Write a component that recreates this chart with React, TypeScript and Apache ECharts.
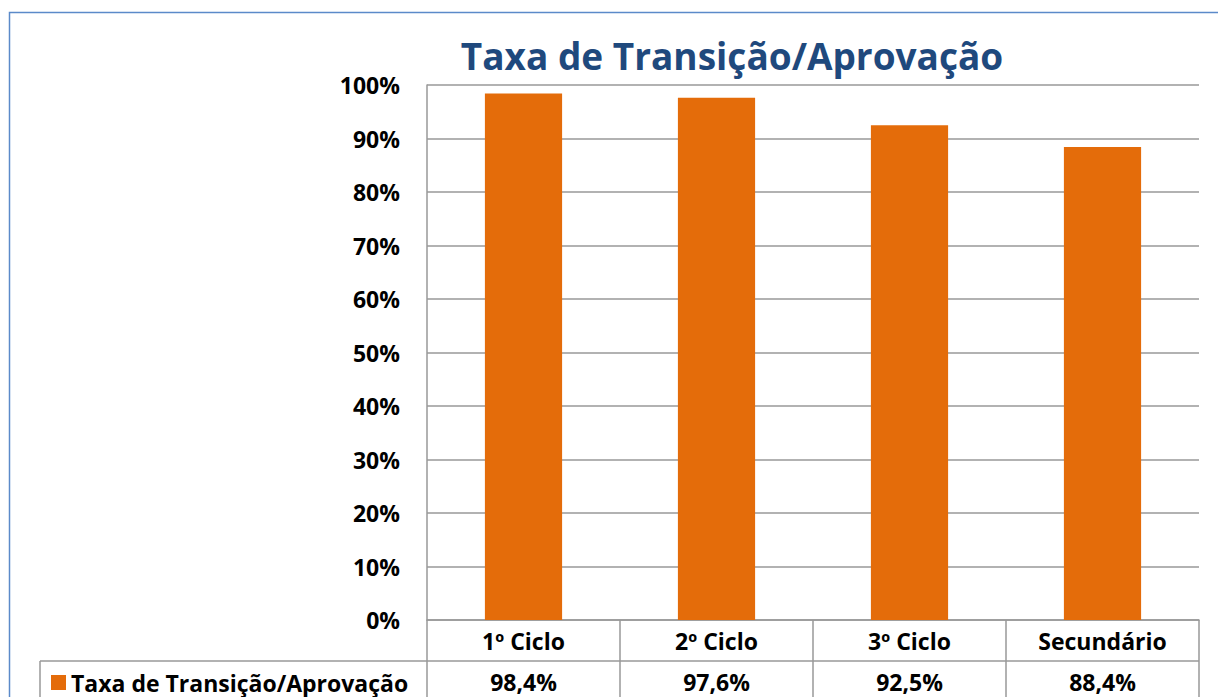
import React, { useEffect, useRef } from "react";
import * as echarts from "echarts";

const categories = ["1º Ciclo", "2º Ciclo", "3º Ciclo", "Secundário"];
const values = [98.4, 97.6, 92.5, 88.4];
const seriesName = "Taxa de Transição/Aprovação";
const titleText = "Taxa de Transição/Aprovação";
const yTicks = [0, 10, 20, 30, 40, 50, 60, 70, 80, 90, 100];

const FONT = "'Open Sans', 'Noto Sans', sans-serif";
const GRAY = "#999999";

export default function App() {
  const ref = useRef<HTMLDivElement>(null);
  useEffect(() => {
    if (!ref.current) return;
    const chart = echarts.init(ref.current, undefined, { renderer: "svg" });
    const valueLabels = values.map((v) => v.toFixed(1).replace(".", ",") + "%");
    chart.setOption({
      animation: false,
      backgroundColor: "#ffffff",
      textStyle: { fontFamily: FONT },
      title: {
        text: titleText,
        left: 727,
        top: 32,
        textAlign: "center",
        textStyle: { fontFamily: FONT, fontWeight: "bold", fontSize: 37, color: "#1F497D" },
      },
      legend: {
        left: 46,
        top: 666,
        icon: "rect",
        itemWidth: 15,
        itemHeight: 15,
        itemGap: 6,
        data: [seriesName],
        textStyle: { fontFamily: FONT, fontWeight: "bold", fontSize: 23, color: "#000" },
      },
      grid: { left: 427, right: 19, top: 85, bottom: 77, containLabel: false },
      xAxis: [
        {
          type: "category",
          data: categories,
          position: "bottom",
          axisLine: { show: true, lineStyle: { color: GRAY, width: 1.5 } },
          axisTick: { show: true, length: 80, alignWithLabel: false, lineStyle: { color: GRAY, width: 1.5 } },
          axisLabel: { margin: 9, fontFamily: FONT, fontWeight: "bold", fontSize: 23, color: "#000" },
        },
        {
          type: "category",
          data: valueLabels,
          position: "bottom",
          offset: 41,
          axisLine: { show: false },
          axisTick: { show: false },
          axisLabel: { margin: 9, fontFamily: FONT, fontWeight: "bold", fontSize: 23, color: "#000" },
        },
      ],
      yAxis: {
        type: "value",
        min: yTicks[0],
        max: yTicks[yTicks.length - 1],
        interval: 10,
        axisLine: { show: true, lineStyle: { color: GRAY, width: 1.5 } },
        axisTick: { show: false },
        splitLine: { show: true, lineStyle: { color: GRAY, width: 1.5 } },
        axisLabel: {
          margin: 27,
          fontFamily: FONT,
          fontWeight: "bold",
          fontSize: 23,
          color: "#000",
          formatter: (v: number) => v + "%",
        },
      },
      series: [
        {
          name: seriesName,
          type: "bar",
          data: values,
          barWidth: "40%",
          itemStyle: { color: "#E46C0A" },
        },
      ],
      graphic: [
        {
          type: "rect",
          shape: { x: 9.5, y: 12.5, width: 1400, height: 800 },
          style: { fill: "none", stroke: "#5B8AC9", lineWidth: 1.5 },
          silent: true,
        },
        {
          type: "line",
          shape: { x1: 40, y1: 661, x2: 1199, y2: 661 },
          style: { stroke: GRAY, lineWidth: 1.5 },
          silent: true,
        },
        {
          type: "line",
          shape: { x1: 40, y1: 661, x2: 40, y2: 700 },
          style: { stroke: GRAY, lineWidth: 1.5 },
          silent: true,
        },
      ],
    });
    return () => chart.dispose();
  }, []);
  return (
    <div
      ref={ref}
      style={{ position: "fixed", left: 0, top: 0, width: 1218, height: 697 }}
    />
  );
}
